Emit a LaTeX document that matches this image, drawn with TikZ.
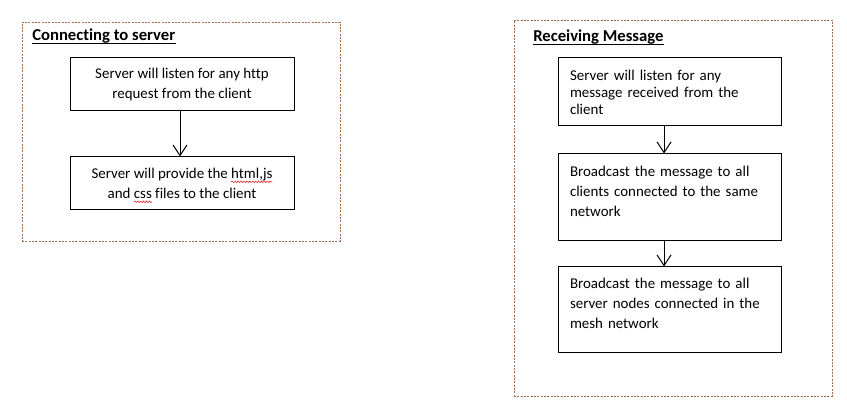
\documentclass[tikz,border=0pt]{standalone}
\usepackage{fontspec}
\setmainfont[Ligatures=NoCommon]{Carlito}
\usetikzlibrary{arrows.meta,decorations.pathmorphing}
\definecolor{framebrown}{RGB}{165,110,75}
\definecolor{squigred}{RGB}{230,40,40}
\newcommand\spellwave[1]{\leavevmode\setbox0=\hbox{#1}\rlap{\tikz[overlay,baseline=0pt]\draw[squigred, line width=0.45pt, decorate, decoration={snake, amplitude=0.55pt, segment length=2.2pt}] (0pt,-2.4pt) -- (\the\wd0,-2.4pt);}\box0\relax}
\tikzset{
  frame/.style={draw=framebrown, line width=0.7pt, dash pattern=on 1.6pt off 0.9pt},
  stepbox/.style={draw=black, line width=0.75pt, rectangle, inner sep=0pt,
    minimum width=223*0.75pt},
  boxtext/.style={font=\fontsize{11.2}{15}\selectfont},
  title/.style={font=\fontsize{12.5}{14}\selectfont\bfseries, anchor=base west, inner sep=0pt},
  uline/.style={draw=black, line width=0.8pt},
  arr/.style={draw=black, line width=0.75pt, -{Straight Barb[length=8pt,width=10.5pt,line width=0.75pt]}}
}
\begin{document}
\begin{tikzpicture}[x=0.75pt, y=-0.75pt]
\useasboundingbox (0,0) rectangle (847,413);
\fill[white] (0,0) rectangle (847,413);
% left frame
\node[frame, rectangle, inner sep=0pt, minimum width=318*0.75pt, minimum height=219*0.75pt] (lframe) at (181,131.5) {};
\node[title] (ltitle) at (32,41) {Connecting to server};
\draw[uline] ([yshift=-1.6pt]ltitle.base west) -- ([yshift=-1.6pt]ltitle.base east);
\node[stepbox, boxtext, align=center, minimum width=224*0.75pt, minimum height=53*0.75pt] (l1) at (182,84.5)
  {Server will listen for any http\\request from the client};
\node[stepbox, boxtext, align=center, minimum width=224*0.75pt, minimum height=53*0.75pt] (l2) at (182,183.5)
  {Server will provide the \spellwave{html,js}\\and \spellwave{css} files to the client};
\draw[arr] ([xshift=-1.5pt]l1.south) -- ([xshift=-1.5pt]l2.north);
% right frame
\node[frame, rectangle, inner sep=0pt, minimum width=318*0.75pt, minimum height=376*0.75pt] (rframe) at (673,208) {};
\node[title] (rtitle) at (533,42) {Receiving Message};
\draw[uline] ([yshift=-1.6pt]rtitle.base west) -- ([yshift=-1.6pt]rtitle.base east);
\node[stepbox, font=\fontsize{11.2}{12.75}\selectfont, align=left, inner xsep=12*0.75pt, text width=199*0.75pt,
  minimum height=68*0.75pt] (r1) at (669.5,92)
  {Server will listen for any\\message received from the\\client};
\node[stepbox, boxtext, align=left, inner xsep=12*0.75pt, text width=199*0.75pt,
  minimum height=87*0.75pt] (r2) at (669.5,197.5)
  {Broadcast the message to all\\clients connected to the same\\network\\[-5pt]\mbox{}};
\node[stepbox, boxtext, align=left, inner xsep=12*0.75pt, text width=199*0.75pt,
  minimum height=86*0.75pt] (r3) at (669.5,310)
  {Broadcast the message to all\\server nodes connected in the\\mesh network\\[-5pt]\mbox{}};
\draw[arr] ([xshift=-4.1pt]r1.south) -- ([xshift=-4.1pt]r2.north);
\draw[arr] ([xshift=-4.1pt]r2.south) -- ([xshift=-4.1pt]r3.north);
\end{tikzpicture}
\end{document}
